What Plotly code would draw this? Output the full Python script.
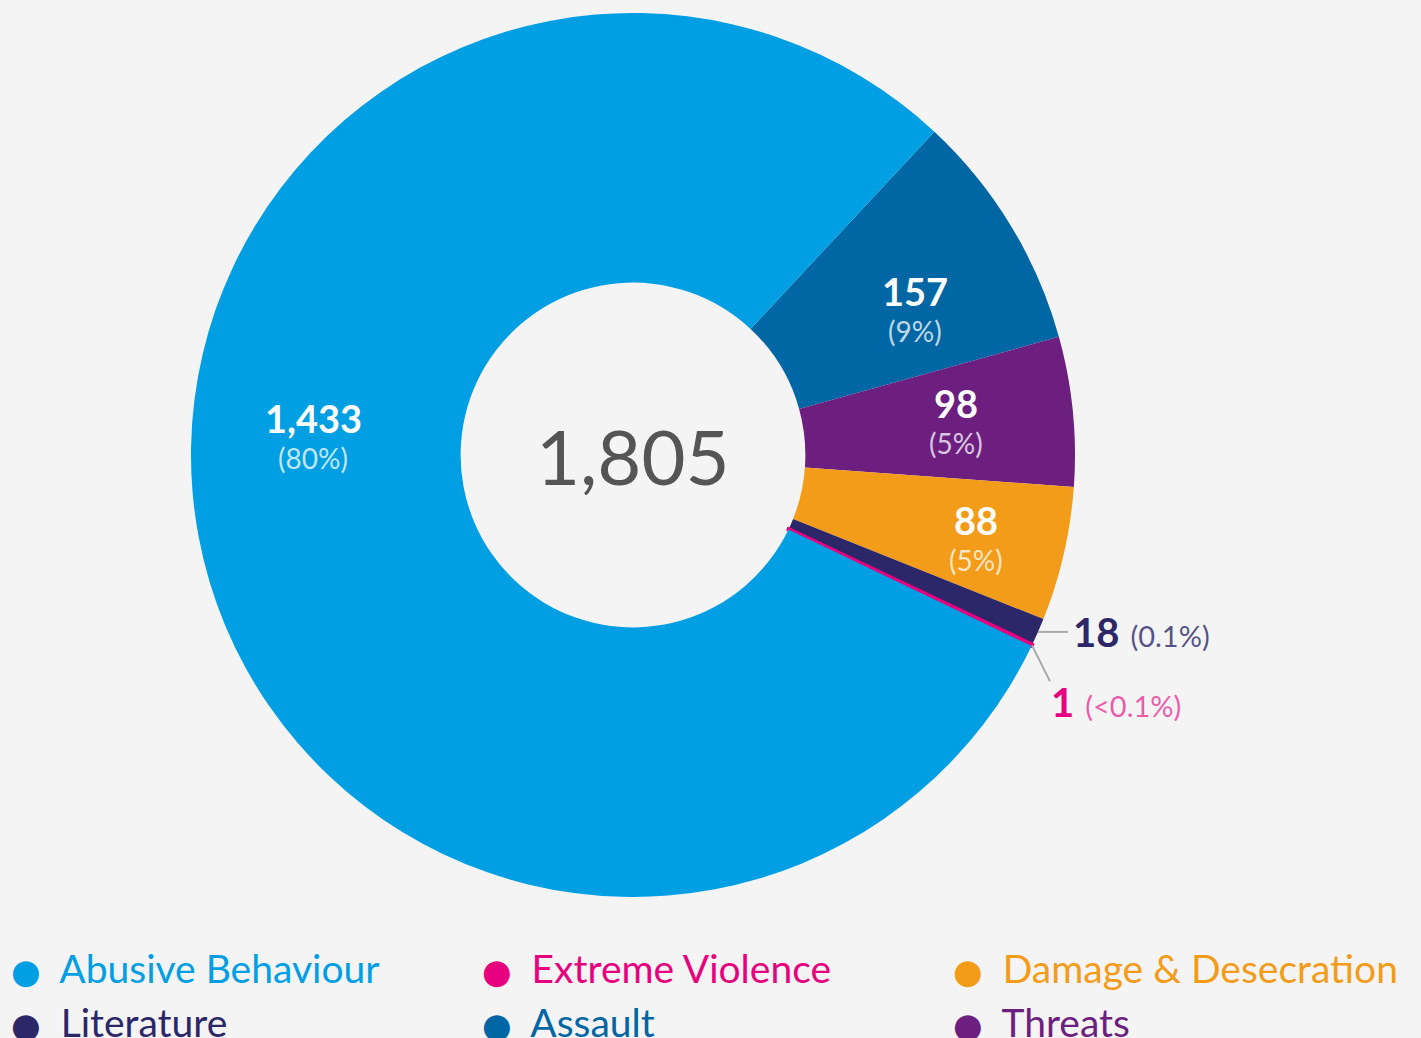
import math

import plotly.graph_objects as go

# Slice order (clockwise, starting just after 12 o'clock)
CATEGORIES = [
    "Assault",
    "Threats",
    "Damage & Desecration",
    "Literature",
    "Extreme Violence",
    "Abusive Behaviour",
]
COUNTS = [157, 98, 88, 18, 1, 1433]
PERCENT_LABELS = ["(9%)", "(5%)", "(5%)", "(0.1%)", "(<0.1%)", "(80%)"]
COLORS = ["#0066A4", "#6D1F80", "#F39C19", "#2B2768", "#E6007E", "#009FE3"]
LEGEND_ORDER = [
    "Abusive Behaviour",
    "Extreme Violence",
    "Damage & Desecration",
    "Literature",
    "Assault",
    "Threats",
]
TOTAL_LABEL = "1,805"

# Layout / style
WIDTH, HEIGHT = 1421, 1038
CX, CY = 633, 455          # pie centre in pixels (from top-left)
RADIUS = 442
HOLE = 0.39
ROTATION = 43
BG = "#F4F4F4"
FONT = "Lato, 'Open Sans', sans-serif"
# inside label placement: (angle nudge in degrees, radius as share of outer radius)
LABEL_POS = {
    "Assault": (4.2, 0.717),
    "Threats": (0, 0.735),
    "Damage & Desecration": (1, 0.80),
    "Abusive Behaviour": (13.7, 0.724),
}
OUTSIDE = {
    # leader-line end offset, label offset (pixels, y up), percent colour
    "Literature": ((30, 0), (33, 0), "rgba(43,39,104,0.8)"),
    "Extreme Violence": ((18, -36), (17, -57), "rgba(230,0,126,0.65)"),
}
LEGEND_X = [-0.0204, 0.3110, 0.6425]
LEGEND_TOP = 936

color_of = dict(zip(CATEGORIES, COLORS))
total = sum(COUNTS)

fig = go.Figure()
fig.add_trace(
    go.Pie(
        labels=CATEGORIES,
        values=COUNTS,
        marker=dict(
            colors=COLORS,
            line=dict(color=COLORS, width=[0, 0, 0, 0, 4, 0]),
        ),
        hole=HOLE,
        sort=False,
        direction="clockwise",
        rotation=ROTATION,
        textinfo="none",
        hoverinfo="label+value+percent",
        showlegend=False,
        domain=dict(
            x=[(CX - RADIUS) / WIDTH, (CX + RADIUS) / WIDTH],
            y=[(HEIGHT - CY - RADIUS) / HEIGHT, (HEIGHT - CY + RADIUS) / HEIGHT],
        ),
    )
)

# legend entries drawn as empty traces so the order can differ from the slices;
# three vertical legends make the three columns
legend_ids = ["legend", "legend2", "legend3"]
for i, name in enumerate(LEGEND_ORDER):
    c = color_of[name]
    fig.add_trace(
        go.Scatter(
            x=[None],
            y=[None],
            mode="markers",
            marker=dict(color="rgba(0,0,0,0)", size=1),
            name=(
                f"<span style='font-family:DejaVu Sans;font-size:34px;color:{c}'>●</span>"
                f"<span style='color:{c}'>\u00a0\u00a0{name}</span>"
            ),
            legend=legend_ids[i % 3],
            hoverinfo="skip",
        )
    )

annotations = [
    dict(
        x=0, y=0, text=TOTAL_LABEL, showarrow=False,
        font=dict(size=76, color="#555555", family=FONT),
    )
]
shapes = []

start = ROTATION
for name, count, pct, c in zip(CATEGORIES, COUNTS, PERCENT_LABELS, COLORS):
    span = count / total * 360
    mid = start + span / 2
    start += span
    if name in OUTSIDE:
        (lx, ly), (tx, ty), pcol = OUTSIDE[name]
        a = math.radians(mid)
        px, py = RADIUS * math.sin(a), RADIUS * math.cos(a)
        shapes.append(dict(
            type="line", xref="x", yref="y",
            x0=px, y0=py, x1=px + lx, y1=py + ly,
            line=dict(color="#AAAAAA", width=2),
        ))
        annotations.append(dict(
            x=px + tx, y=py + ty, xanchor="left", showarrow=False,
            text=(
                f"<b>{count:,}</b><span style='font-size:29px;color:{pcol}'>"
                f"\u00a0\u2009{pct}</span>"
            ),
            font=dict(size=40, color=c, family=FONT),
        ))
    else:
        nudge, share = LABEL_POS[name]
        a = math.radians(mid + nudge)
        r = RADIUS * share
        x, y = r * math.sin(a), r * math.cos(a)
        annotations.append(dict(
            x=x, y=y, yshift=20, showarrow=False, text=f"<b>{count:,}</b>",
            font=dict(size=38, color="white", family=FONT),
        ))
        annotations.append(dict(
            x=x, y=y, yshift=-20, showarrow=False, text=pct,
            font=dict(size=28, color="rgba(255,255,255,0.75)", family=FONT),
        ))

legend_style = dict(
    orientation="v",
    xanchor="left",
    y=(HEIGHT - LEGEND_TOP) / HEIGHT,
    yanchor="top",
    bgcolor="rgba(0,0,0,0)",
    font=dict(size=39, family=FONT),
    itemclick=False,
    itemdoubleclick=False,
)

fig.update_layout(
    width=WIDTH,
    height=HEIGHT,
    margin=dict(l=0, r=0, t=0, b=0, autoexpand=False),
    paper_bgcolor=BG,
    plot_bgcolor=BG,
    font=dict(family=FONT, size=36),
    xaxis=dict(visible=False, range=[-CX, WIDTH - CX], domain=[0, 1], fixedrange=True),
    yaxis=dict(visible=False, range=[-(HEIGHT - CY), CY], domain=[0, 1], fixedrange=True),
    annotations=annotations,
    shapes=shapes,
    legend=dict(x=LEGEND_X[0], **legend_style),
    legend2=dict(x=LEGEND_X[1], **legend_style),
    legend3=dict(x=LEGEND_X[2], **legend_style),
)

fig.write_html(
    "out.html",
    config={"displayModeBar": False},
    post_script="document.body.style.margin='0';document.body.style.background='#F4F4F4';",
)
